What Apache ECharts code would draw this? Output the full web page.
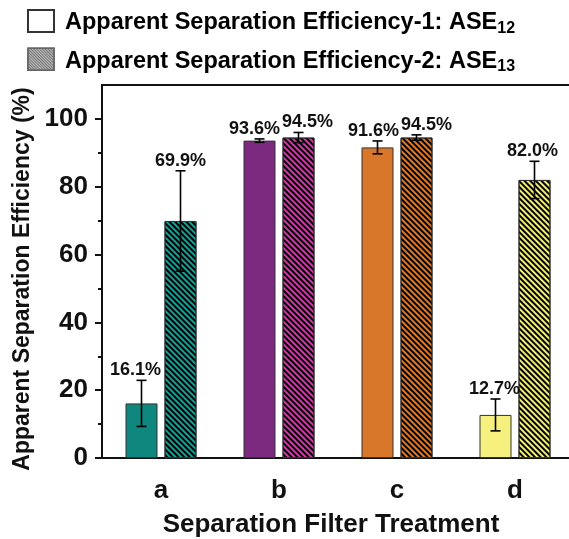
<!DOCTYPE html>
<html>
<head>
<meta charset="utf-8">
<script src="https://cdn.jsdelivr.net/npm/echarts@6/dist/echarts.min.js"></script>
<style>html,body{margin:0;padding:0;background:#fff;}#c{width:569px;height:539px;}</style>
</head>
<body>
<div id="c"></div>
<script>
// ---- data ----
const categories = ['a', 'b', 'c', 'd'];
const seriesNames = ['Apparent Separation Efficiency-1: ASE12', 'Apparent Separation Efficiency-2: ASE13'];
const ase12 = [16.1, 93.6, 91.6, 12.7];
const ase12Err = [6.8, 0.5, 1.9, 4.7];
const ase13 = [69.9, 94.5, 94.5, 82.0];
const ase13Err = [14.8, 1.5, 0.8, 5.5];
const yTicks = [0, 20, 40, 60, 80, 100];
const yMinorTicks = [10, 30, 50, 70, 90];

// ---- styles ----
const colors12 = ['#10877e', '#7b2a80', '#d8772a', '#f6f07e'];
const colors13 = ['#16a096', '#d03aa8', '#e07a28', '#f2ee70'];
const labelDx12 = [-6, -5, -4, -1];
const labelDx13 = [0, 9, 10, -2];
const FONT = 'Liberation Sans, Arial, sans-serif';
const BAR_W = 32, GAP = 7;
const OFF = (BAR_W + GAP) / 2;

function decal() {
  return { symbol: 'rect', color: '#000', dashArrayX: [1, 0], dashArrayY: [2, 2], rotation: Math.PI / 4 };
}

function errSeries(vals, errs, sign, dx) {
  return {
    type: 'custom',
    z: 10,
    silent: true,
    clip: false,
    data: vals.map((v, i) => [i, v, errs[i], dx[i]]),
    renderItem: function (params, api) {
      const i = api.value(0), v = api.value(1), e = api.value(2), ldx = api.value(3);
      const cx = api.coord([i, v])[0] + sign * OFF;
      const yT = api.coord([i, v + e])[1];
      const yB = api.coord([i, v - e])[1];
      const st = { stroke: '#000', lineWidth: 1.6 };
      return {
        type: 'group',
        children: [
          { type: 'line', shape: { x1: cx, y1: yT, x2: cx, y2: yB }, style: st },
          { type: 'line', shape: { x1: cx - 5, y1: yT, x2: cx + 5, y2: yT }, style: st },
          { type: 'line', shape: { x1: cx - 5, y1: yB, x2: cx + 5, y2: yB }, style: st },
          { type: 'text', x: cx + ldx, y: yT - 1,
            style: { text: v.toFixed(1) + '%', font: 'bold 18px ' + FONT, fill: '#111',
                     align: 'center', verticalAlign: 'bottom' } }
        ]
      };
    }
  };
}

const chart = echarts.init(document.getElementById('c'));
chart.setOption({
  animation: false,
  backgroundColor: '#fff',
  legend: {
    orient: 'vertical', left: 22, top: 4,
    itemWidth: 26, itemHeight: 22, itemGap: 11,
    icon: 'rect',
    data: [
      { name: seriesNames[0], itemStyle: { color: '#fff', borderColor: '#333', borderWidth: 2 } },
      { name: seriesNames[1], itemStyle: { color: '#bbb', borderColor: '#666', borderWidth: 1.5,
          decal: { symbol: 'rect', color: '#777', dashArrayX: [1, 0], dashArrayY: [1, 1], rotation: Math.PI / 4 } } }
    ],
    formatter: function (name) {
      const base = name.slice(0, -2), sub = name.slice(-2);
      return '{t|' + base + '}{s|' + sub + '}';
    },
    textStyle: {
      color: '#000', padding: [4, 0, 0, 6],
      rich: {
        t: { fontFamily: FONT, fontWeight: 'bold', fontSize: 23.5, lineHeight: 27, color: '#000' },
        s: { fontFamily: FONT, fontWeight: 'bold', fontSize: 16, lineHeight: 14, verticalAlign: 'bottom', color: '#000' }
      }
    }
  },
  grid: { left: 102, top: 85, width: 472, height: 373, outerBoundsMode: 'none', containLabel: false,
          show: true, borderColor: '#111', borderWidth: 2, backgroundColor: 'transparent' },
  xAxis: {
    type: 'category', data: categories,
    axisLine: { lineStyle: { color: '#111', width: 2 } },
    axisTick: { show: false },
    axisLabel: { color: '#111', fontFamily: FONT, fontWeight: 'bold', fontSize: 26, margin: 20 },
    name: 'Separation Filter Treatment', nameLocation: 'middle', nameGap: 54,
    nameTextStyle: { color: '#111', fontFamily: FONT, fontWeight: 'bold', fontSize: 26, padding: [0, 14, 0, 0] }
  },
  yAxis: [{
    type: 'value', min: 0, max: 110, interval: 20,
    axisLine: { show: true, lineStyle: { color: '#111', width: 2 } },
    axisTick: { show: true, length: 7, customValues: yTicks, lineStyle: { color: '#111', width: 2 } },
    axisLabel: { customValues: yTicks, color: '#111', fontFamily: FONT, fontWeight: 'bold', fontSize: 26, margin: 14 },
    splitLine: { show: false },
    name: 'Apparent Separation Efficiency (%)', nameLocation: 'middle', nameGap: 67,
    nameTextStyle: { color: '#111', fontFamily: FONT, fontWeight: 'bold', fontSize: 23, padding: [0, 15, 0, 0] }
  }, {
    type: 'value', min: 0, max: 110, interval: 10, position: 'left',
    axisLine: { show: false },
    axisTick: { show: true, length: 4, customValues: yMinorTicks, lineStyle: { color: '#111', width: 2 } },
    axisLabel: { show: false },
    splitLine: { show: false }
  }],
  series: [
    {
      name: seriesNames[0], type: 'bar', barWidth: BAR_W, barGap: (GAP / BAR_W * 100) + '%',
      itemStyle: { color: '#fff', borderColor: '#333', borderWidth: 1 },
      data: ase12.map((v, i) => ({ value: v, itemStyle: { color: colors12[i] } }))
    },
    {
      name: seriesNames[1], type: 'bar', barWidth: BAR_W,
      itemStyle: { color: '#aaa', borderColor: '#333', borderWidth: 1 },
      data: ase13.map((v, i) => ({ value: v, itemStyle: { color: colors13[i], decal: decal() } }))
    },
    errSeries(ase12, ase12Err, -1, labelDx12),
    errSeries(ase13, ase13Err, 1, labelDx13)
  ]
});
</script>
</body>
</html>
